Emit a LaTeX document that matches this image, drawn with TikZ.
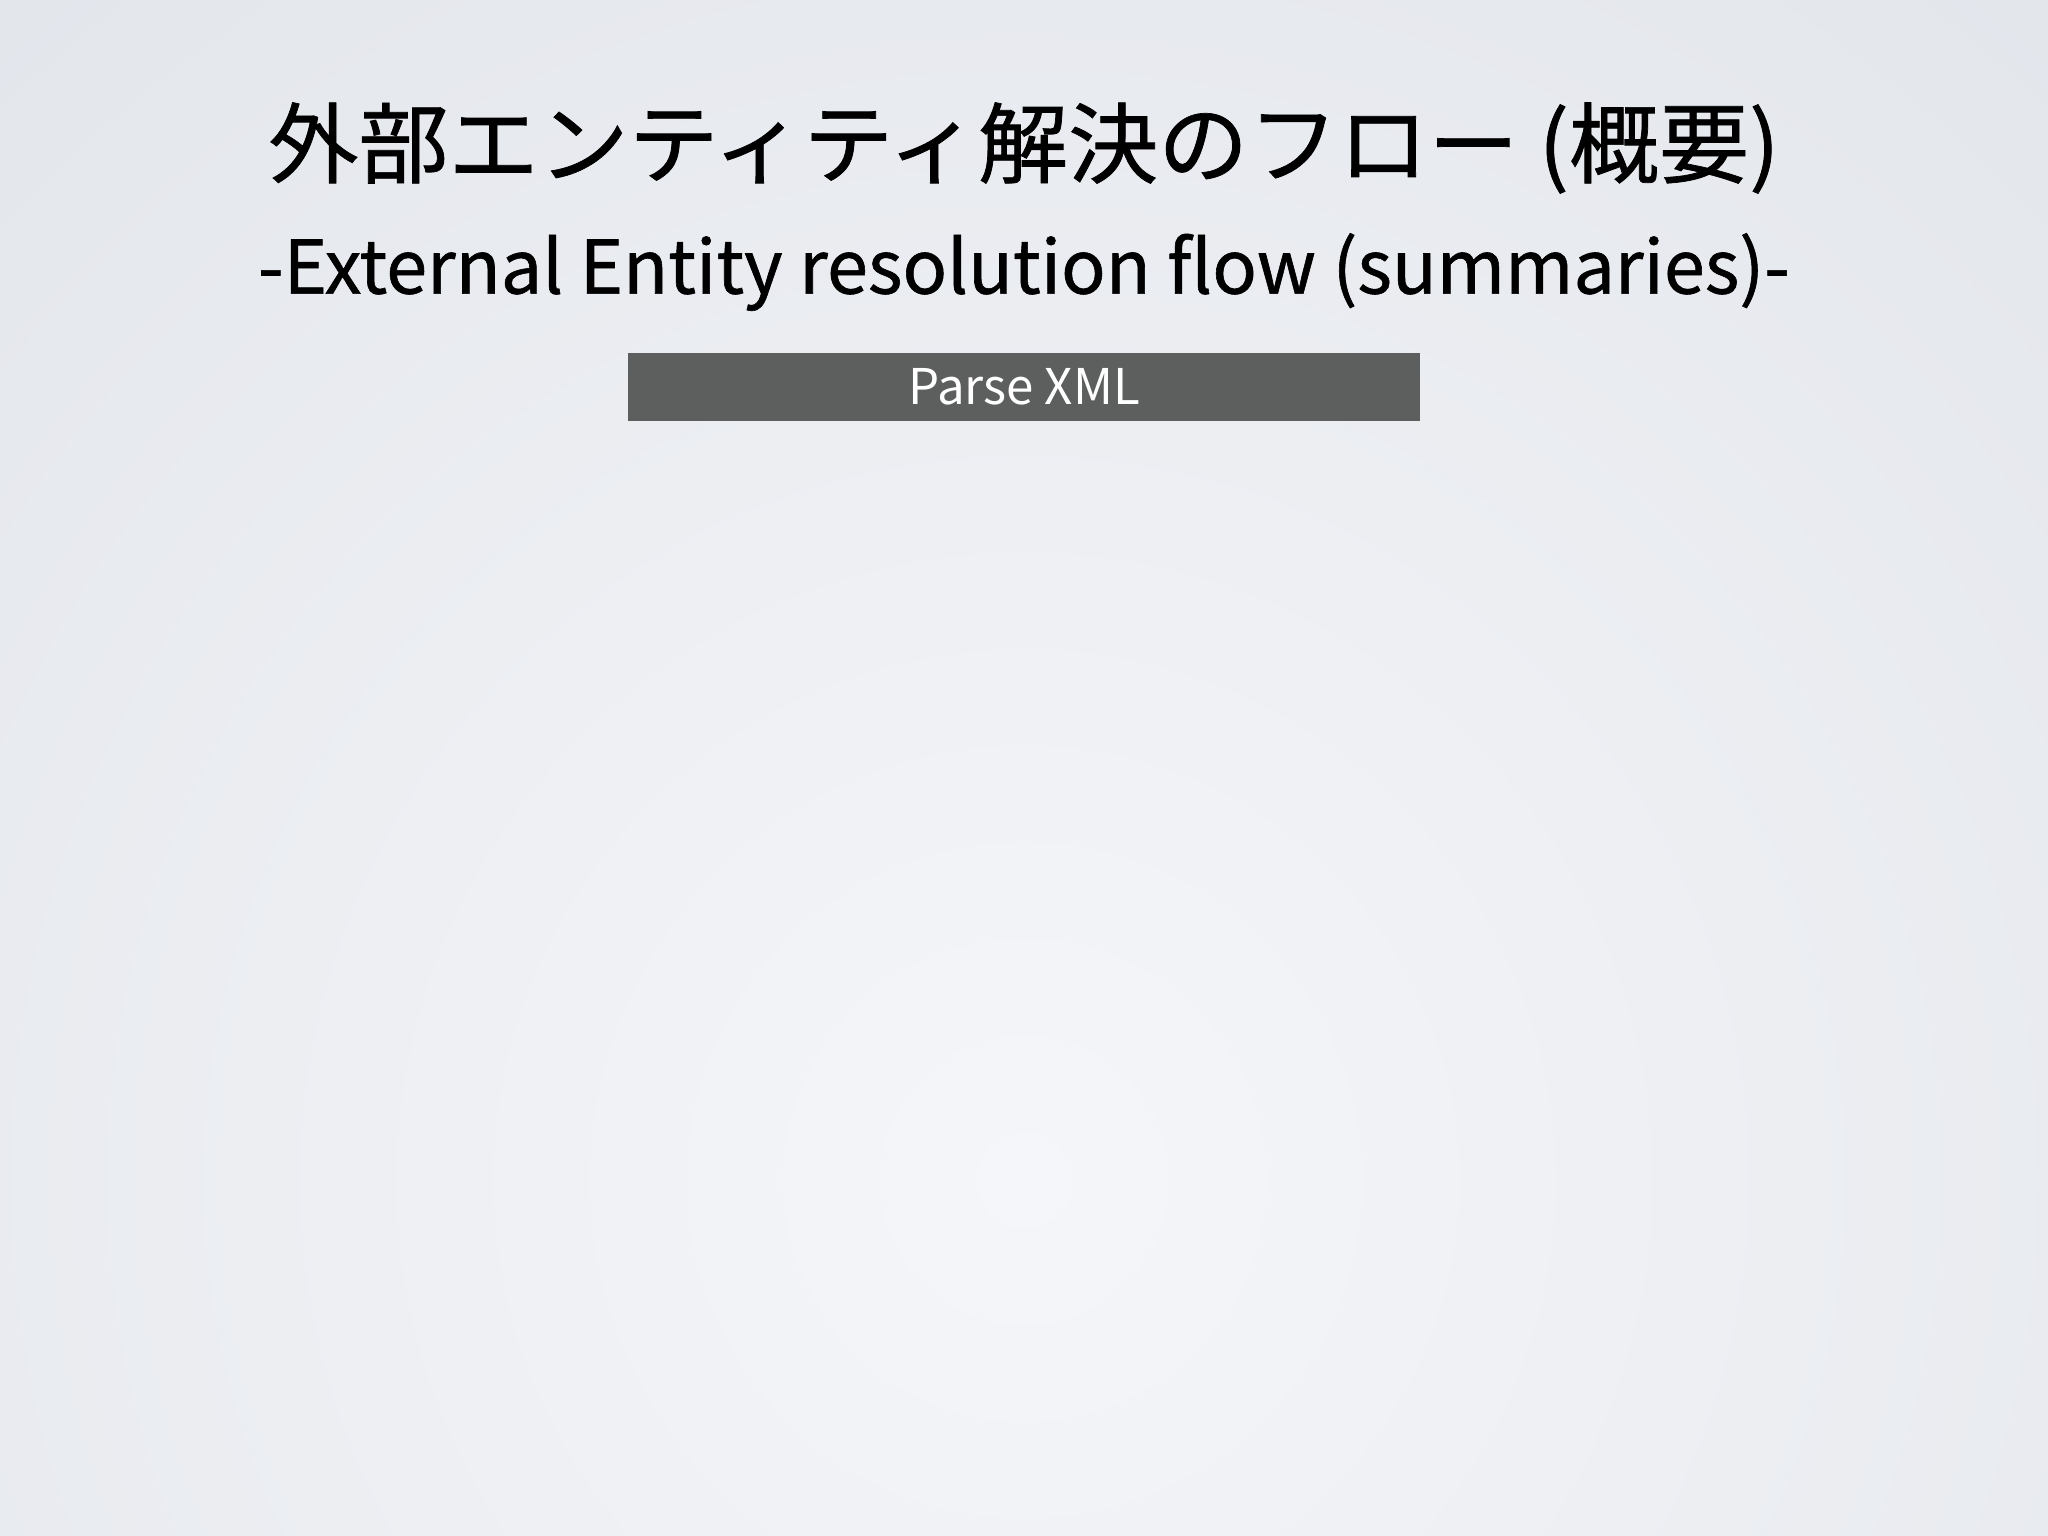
\documentclass[tikz,border=0pt]{standalone}
\usepackage{fontspec}
\setmainfont{Noto Sans CJK JP}
\newfontfamily\headfont{Noto Sans CJK JP}[FakeBold=0.8]
\usetikzlibrary{positioning}

\definecolor{bgdark}{RGB}{212,217,224}
\definecolor{bglight}{RGB}{245,246,249}
\definecolor{boxgray}{RGB}{93,95,95}

\begin{document}
\begin{tikzpicture}[
  titletext/.style={font=\headfont\fontsize{25}{28}\selectfont, text=black, inner sep=0pt, xscale=1.025, transform shape},
  subtext/.style={font=\headfont\fontsize{21}{24}\selectfont, text=black, inner sep=0pt, xscale=1.0, transform shape},
  stepbox/.style={fill=boxgray, text=white, minimum width=7.92cm, minimum height=0.68cm, inner sep=0pt, font=\fontsize{14}{16}\selectfont}
]

%% Slide background
\useasboundingbox (0,0) rectangle (20.48,-15.36);
\fill[bgdark] (0,0) rectangle (20.48,-15.36);
\begin{scope}
\clip (0,0) rectangle (20.48,-15.36);
\shade[inner color=bglight, outer color=bgdark] (10.24,-11.8) circle (28);
\end{scope}

%% Titles
\node[titletext] (title) at (10.24,-1.48) {外部エンティティ解決のフロー (概要)};
\node[subtext] (subtitle) at (10.24,-2.72) {-External Entity resolution flow (summaries)-};

%% Flow
\node[stepbox] (parse) at (10.24,-3.87) {Parse XML};

\end{tikzpicture}
\end{document}
